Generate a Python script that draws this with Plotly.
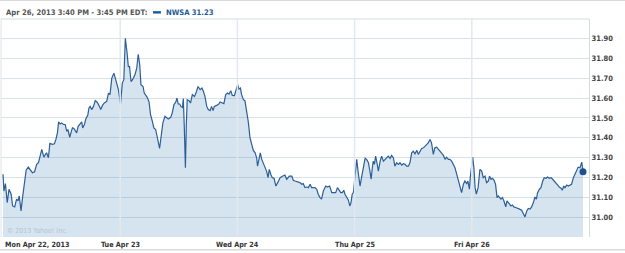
import plotly.graph_objects as go

# ---- data (minutes after 9:30 open, price) ----
day_labels = ["Mon Apr 22, 2013", "Tue Apr 23", "Wed Apr 24", "Thu Apr 25", "Fri Apr 26"]
session_len = 390  # trading minutes per day

mon_time = [0, 3, 8, 14, 20, 27, 32, 39, 45, 50, 54, 60, 65, 71, 77, 84, 90, 98, 105, 112,
            118, 123, 129, 132, 136, 141, 145, 151, 156, 164, 171, 176, 181, 185, 190, 195, 201, 207, 212, 216,
            222, 226, 231, 236, 242, 245, 250, 254, 258, 262, 265, 271, 276, 282, 286, 290, 295, 301, 307, 314,
            321, 325, 331, 337, 345, 351, 356, 362, 369, 376, 384]
mon_price = [31.217, 31.133, 31.17, 31.075, 31.142, 31.117, 31.058, 31.053, 31.092, 31.083, 31.108, 31.033, 31.10, 31.167, 31.238, 31.253, 31.24, 31.225, 31.23, 31.267,
             31.275, 31.308, 31.342, 31.325, 31.303, 31.317, 31.325, 31.30, 31.372, 31.367, 31.37, 31.392, 31.425, 31.48, 31.47, 31.475, 31.467, 31.467, 31.433, 31.442,
             31.403, 31.425, 31.45, 31.447, 31.433, 31.425, 31.458, 31.467, 31.47, 31.48, 31.45, 31.467, 31.497, 31.513, 31.55, 31.558, 31.542, 31.558, 31.587, 31.578,
             31.558, 31.542, 31.563, 31.575, 31.583, 31.625, 31.617, 31.70, 31.725, 31.692, 31.642]

tue_time = [1, 7, 12, 17, 23, 27, 31, 36, 41, 49, 55, 60, 65, 69, 76, 80, 86, 91, 96, 101,
            107, 112, 118, 125, 131, 137, 142, 149, 155, 160, 168, 173, 179, 185, 189, 193, 198, 202, 207, 210,
            213, 217, 220, 223, 229, 234, 240, 247, 252, 259, 266, 272, 277, 282, 288, 293, 299, 304, 309, 313,
            321, 328, 332, 339, 345, 351, 357, 362, 368, 373, 380, 384]
tue_price = [31.572, 31.675, 31.692, 31.90, 31.825, 31.758, 31.758, 31.683, 31.692, 31.717, 31.75, 31.82, 31.767, 31.667, 31.658, 31.625, 31.612, 31.60, 31.58, 31.517,
             31.483, 31.45, 31.442, 31.392, 31.347, 31.417, 31.475, 31.508, 31.503, 31.495, 31.503, 31.525, 31.567, 31.58, 31.60, 31.57, 31.57, 31.558, 31.553, 31.597,
             31.467, 31.25, 31.467, 31.592, 31.587, 31.575, 31.617, 31.608, 31.625, 31.658, 31.642, 31.65, 31.633, 31.608, 31.558, 31.542, 31.537, 31.558, 31.537, 31.558,
             31.563, 31.57, 31.58, 31.575, 31.572, 31.617, 31.625, 31.62, 31.637, 31.613, 31.612, 31.633]

wed_time = [1, 5, 10, 14, 20, 25, 31, 36, 42, 48, 53, 59, 64, 67, 72, 76, 81, 86, 92, 97,
            102, 106, 111, 116, 122, 128, 134, 142, 151, 158, 164, 173, 181, 186, 192, 201, 208, 214, 219, 225,
            231, 236, 242, 247, 258, 264, 269, 275, 280, 286, 294, 300, 307, 314, 321, 327, 333, 338, 344, 349,
            354, 358, 364, 369, 374, 378, 382, 386]
wed_price = [31.667, 31.645, 31.65, 31.617, 31.592, 31.587, 31.533, 31.483, 31.40, 31.367, 31.337, 31.325, 31.30, 31.258, 31.308, 31.325, 31.292, 31.275, 31.25, 31.233,
             31.20, 31.242, 31.217, 31.20, 31.197, 31.158, 31.175, 31.20, 31.208, 31.213, 31.192, 31.208, 31.208, 31.187, 31.183, 31.18, 31.175, 31.167, 31.17, 31.15,
             31.153, 31.15, 31.167, 31.15, 31.15, 31.142, 31.117, 31.10, 31.092, 31.133, 31.158, 31.153, 31.158, 31.125, 31.125, 31.125, 31.15, 31.137, 31.125, 31.125,
             31.137, 31.117, 31.103, 31.088, 31.058, 31.075, 31.117, 31.125]

thu_time = [2, 7, 12, 18, 23, 29, 35, 40, 46, 51, 55, 59, 62, 66, 70, 75, 79, 85, 90, 96,
            101, 107, 112, 118, 123, 129, 134, 140, 146, 151, 157, 162, 168, 173, 179, 184, 190, 195, 201, 207,
            212, 218, 223, 229, 234, 240, 245, 251, 256, 262, 267, 273, 279, 284, 290, 295, 301, 306, 312, 317,
            323, 329, 334, 340, 345, 351, 356, 362, 367, 373, 377, 382, 385]
thu_price = [31.217, 31.292, 31.225, 31.158, 31.20, 31.258, 31.297, 31.292, 31.275, 31.233, 31.192, 31.25, 31.283, 31.267, 31.308, 31.27, 31.233, 31.283, 31.308, 31.283,
             31.292, 31.30, 31.308, 31.297, 31.312, 31.30, 31.258, 31.275, 31.267, 31.275, 31.263, 31.27, 31.267, 31.258, 31.258, 31.275, 31.325, 31.333, 31.32, 31.337,
             31.317, 31.333, 31.347, 31.35, 31.358, 31.367, 31.375, 31.392, 31.375, 31.317, 31.35, 31.353, 31.342, 31.333, 31.325, 31.313, 31.292, 31.303, 31.292, 31.292,
             31.283, 31.267, 31.25, 31.217, 31.192, 31.158, 31.125, 31.167, 31.183, 31.17, 31.183, 31.142, 31.203]

fri_time = [3, 7, 11, 15, 21, 27, 33, 38, 44, 49, 55, 59, 64, 69, 74, 79, 84, 88, 93, 97,
            102, 107, 113, 117, 122, 126, 130, 135, 140, 146, 153, 159, 166, 171, 177, 183, 188, 194, 199, 205,
            210, 215, 219, 225, 230, 236, 241, 247, 252, 258, 264, 269, 275, 280, 286, 291, 297, 301, 306, 310,
            316, 321, 327, 332, 338, 343, 349, 354, 360, 366, 370]
fri_price = [31.303, 31.25, 31.15, 31.117, 31.15, 31.242, 31.233, 31.20, 31.208, 31.175, 31.183, 31.208, 31.192, 31.197, 31.187, 31.167, 31.10, 31.108, 31.10, 31.092,
             31.10, 31.083, 31.053, 31.083, 31.075, 31.067, 31.058, 31.063, 31.053, 31.05, 31.047, 31.042, 31.037, 31.02, 31.003, 31.033, 31.045, 31.042, 31.053, 31.075,
             31.103, 31.092, 31.125, 31.142, 31.15, 31.183, 31.20, 31.197, 31.203, 31.197, 31.20, 31.192, 31.183, 31.175, 31.163, 31.153, 31.147, 31.137, 31.158, 31.15,
             31.163, 31.158, 31.163, 31.167, 31.20, 31.217, 31.233, 31.253, 31.25, 31.278, 31.23]

y_ticks = [31.00, 31.10, 31.20, 31.30, 31.40, 31.50, 31.60, 31.70, 31.80, 31.90]
header_text = "Apr 26, 2013 3:40 PM - 3:45 PM EDT:"
symbol = "NWSA"
watermark = "\u00a9 2013 Yahoo! Inc."

# ---- assemble series ----
days = [(mon_time, mon_price), (tue_time, tue_price), (wed_time, wed_price),
        (thu_time, thu_price), (fri_time, fri_price)]
xs, ys = [], []
for i, (t, p) in enumerate(days):
    assert len(t) == len(p), (i, len(t), len(p))
    xs += [i * session_len + v for v in t]
    ys += p
day_starts = [i * session_len for i in range(len(day_labels))]

LINE = "#2c5f97"
FONT = "DejaVu Sans Condensed, DejaVu Sans"

fig = go.Figure()
fig.add_trace(go.Scatter(x=xs, y=ys, mode="lines", line=dict(color=LINE, width=1.2),
                         fill="tozeroy", fillcolor="rgba(70,130,180,0.22)", hoverinfo="skip"))
fig.add_trace(go.Scatter(x=[xs[-1]], y=[ys[-1]], mode="markers",
                         marker=dict(color="#1d5190", size=7), hoverinfo="skip"))

shapes = []
for d in day_starts[1:]:
    shapes.append(dict(type="line", xref="x", yref="paper", x0=d, x1=d, y0=0, y1=1,
                       line=dict(color="#e2e8ee", width=1.5), layer="above"))
# borders
shapes.append(dict(type="line", xref="paper", yref="paper", x0=0, x1=1, y0=1, y1=1,
                   line=dict(color="#d3dbe3", width=1)))
shapes.append(dict(type="line", xref="paper", yref="paper", x0=0, x1=0, y0=0, y1=1,
                   line=dict(color="#dde4ea", width=1)))
shapes.append(dict(type="line", xref="paper", yref="paper", x0=-0.01, x1=1.07, y0=1.086, y1=1.086,
                   line=dict(color="#d9d9d9", width=1.5)))
shapes.append(dict(type="line", xref="paper", yref="paper", x0=-0.01, x1=1.07, y0=-0.058, y1=-0.058,
                   line=dict(color="#d9d9d9", width=1.5)))
# legend swatch
shapes.append(dict(type="rect", xref="paper", yref="paper", x0=0.2585, x1=0.272, y0=1.025, y1=1.036,
                   fillcolor="#1f5a96", line=dict(width=0)))

annotations = []
for i, (lab, d) in enumerate(zip(day_labels, day_starts)):
    annotations.append(dict(x=d, y=0, xref="x", yref="paper", text=lab, showarrow=False,
                            xanchor="left" if i == 0 else "center", yanchor="top", yshift=-1,
                            font=dict(family=FONT, size=7.2, color="#333333", weight="bold")))
annotations.append(dict(x=0.006, y=0.026, xref="paper", yref="paper", text=watermark, showarrow=False,
                        xanchor="left", yanchor="middle",
                        font=dict(family=FONT, size=7, color="#b4c3d1")))
annotations.append(dict(x=0.005, y=1.031, xref="paper", yref="paper", text=header_text, showarrow=False,
                        xanchor="left", yanchor="middle",
                        font=dict(family=FONT, size=7.6, color="#555555", weight="bold")))
annotations.append(dict(x=0.277, y=1.031, xref="paper", yref="paper", text=f"{symbol} {ys[-1]:.2f}",
                        showarrow=False, xanchor="left", yanchor="middle",
                        font=dict(family=FONT, size=7.6, color="#1f5a96", weight="bold")))

fig.update_layout(
    width=625, height=253,
    margin=dict(l=1, r=36, t=19, b=16),
    paper_bgcolor="white", plot_bgcolor="white",
    showlegend=False,
    xaxis=dict(range=[-6.7, 1950], showgrid=False, zeroline=False, showticklabels=False, ticks=""),
    yaxis=dict(range=[30.902, 31.997], side="right", tickvals=y_ticks, tickformat=".2f",
               showgrid=True, gridcolor="#d8e0e8", gridwidth=1, zeroline=False,
               showline=True, linecolor="#d3dbe3", linewidth=1, ticks="",
               tickfont=dict(family=FONT, size=7.5, color="#444444", weight="bold")),
    shapes=shapes, annotations=annotations,
)
fig.write_html("out.html")
